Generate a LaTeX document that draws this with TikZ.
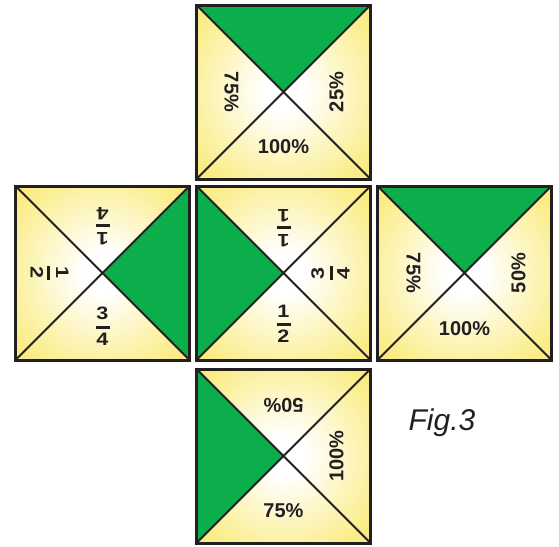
\documentclass[tikz,border=0pt]{standalone}
\usepackage{fontspec,graphicx}
\setmainfont{Liberation Sans}
\usetikzlibrary{positioning}
\definecolor{tilegreen}{RGB}{12,174,76}
\definecolor{tileyellow}{RGB}{250,236,130}
\definecolor{tileline}{RGB}{35,31,32}
\pgfdeclareradialshading{tileglow}{\pgfpoint{0bp}{0bp}}{color(0bp)=(white); color(6bp)=(white);
  color(20bp)=(tileyellow!55!white); color(32bp)=(tileyellow); color(50bp)=(tileyellow)}
\newcommand{\frc}[2]{\shortstack{\scalebox{1.2}[1]{#1}\\[3pt]\rule{14pt}{3pt}\\[1pt]\scalebox{1.2}[1]{#2}}}

\begin{document}
\begin{tikzpicture}[x=1pt,y=-1pt,
  pct/.style={font=\bfseries\fontsize{20}{20}\selectfont,text=tileline,inner sep=0pt},
  frl/.style={font=\bfseries\fontsize{18}{18}\selectfont,text=tileline,inner sep=0pt}]
\useasboundingbox (0,0) rectangle (559,546);
% the five tiles: centre / green corners / name
\foreach \cx/\cy/\ax/\ay/\bx/\by/\nm in {283.5/92/-87/-87/87/-87/up,
  102.5/273/87/-87/87/87/west, 283.5/273/-87/-87/-87/87/mid,
  464.5/273/-87/-87/87/-87/east, 283.5/456/-87/-87/-87/87/down}{
\begin{scope}[shift={(\cx,\cy)}]
\shade[shading=tileglow] (-87,-87) rectangle (87,87);
\fill[tilegreen] (0,0)--(\ax,\ay)--(\bx,\by)--cycle;
\draw[tileline,line width=2] (-87,-87)--(87,87) (87,-87)--(-87,87);
\draw[tileline,line width=3] (-87,-87) rectangle (87,87);
\coordinate (\nm) at (0,0);
\end{scope}}
% top tile
\node[pct,rotate=-90] (up-l) at ([xshift=-52pt]up) {75\%};
\node[pct,rotate=90] (up-r) at ([xshift=53pt]up) {25\%};
\node[pct] (up-b) at ([yshift=-55pt]up) {100\%};
% left tile
\node[frl,rotate=180] (west-t) at ([yshift=47pt]west) {\frc{1}{4}};
\node[frl,rotate=-90] (west-l) at ([xshift=-53pt]west) {\frc{1}{2}};
\node[frl] (west-b) at ([yshift=-53pt]west) {\frc{3}{4}};
% middle tile
\node[frl,rotate=180] (mid-t) at ([yshift=45pt]mid) {\frc{1}{1}};
\node[frl,rotate=90] (mid-r) at ([xshift=47pt]mid) {\frc{3}{4}};
\node[frl] (mid-b) at ([yshift=-51pt]mid) {\frc{1}{2}};
% right tile
\node[pct,rotate=-90] (east-l) at ([xshift=-51pt]east) {75\%};
\node[pct,rotate=90] (east-r) at ([xshift=54pt]east) {50\%};
\node[pct] (east-b) at ([yshift=-56pt]east) {100\%};
% bottom tile
\node[pct,rotate=180] (down-t) at ([yshift=51pt]down) {50\%};
\node[pct,rotate=90] (down-r) at ([xshift=53pt]down) {100\%};
\node[pct] (down-b) at ([yshift=-55pt]down) {75\%};
\node[font=\itshape\fontsize{30}{30}\selectfont,text=tileline,anchor=base,inner sep=0pt] (fig) at (442,430) {Fig.3};
\end{tikzpicture}
\end{document}
